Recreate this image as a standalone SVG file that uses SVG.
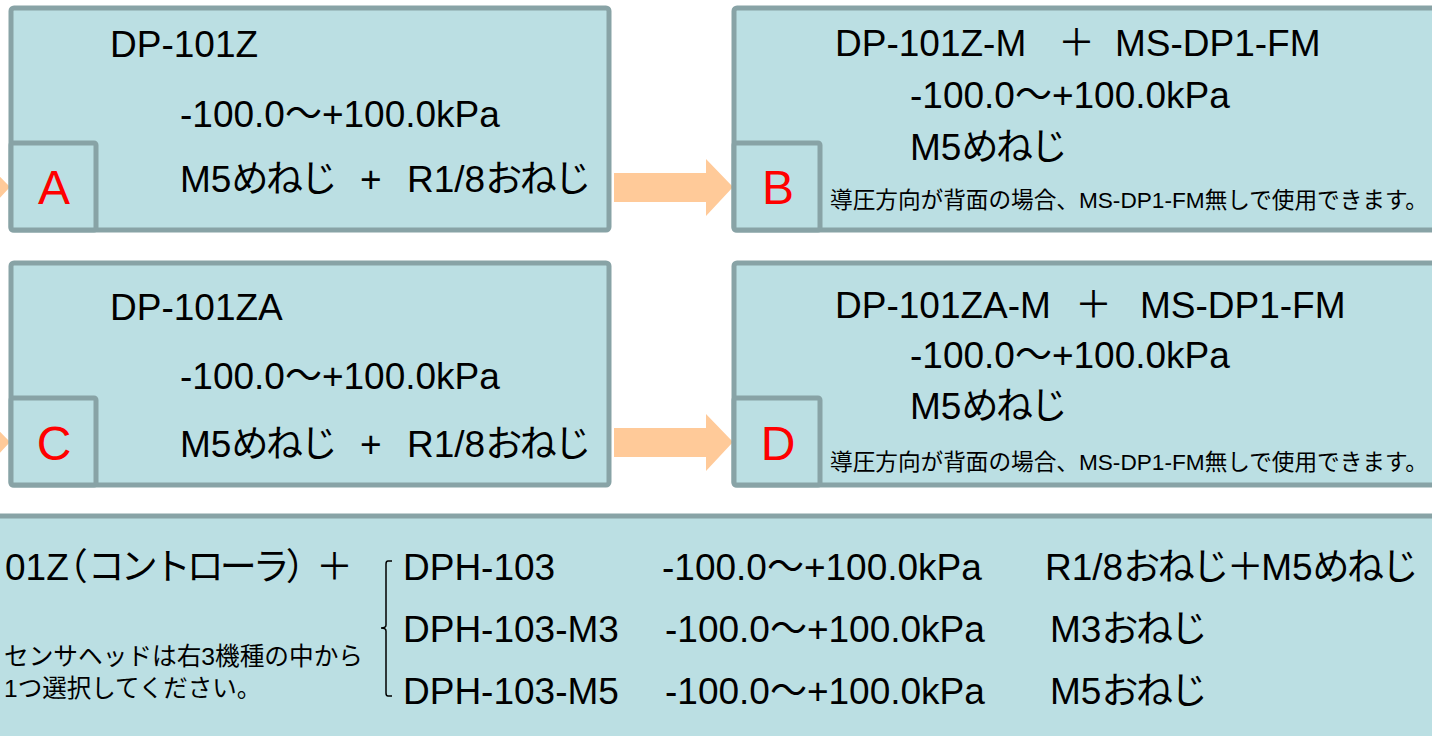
<svg xmlns="http://www.w3.org/2000/svg" width="1432" height="736" viewBox="0 0 1432 736">
<style>
.box{fill:#BBDFE3;stroke:#88A3A6;stroke-width:5}
.arrow{fill:#FFCA99}
text{font-family:"Liberation Sans","Noto Sans CJK JP",sans-serif;fill:#000}
.t{font-size:37px}
.k{letter-spacing:-2.5px}
.k4{letter-spacing:-4px}
.s{font-size:22.5px}
.n{font-size:24.5px}
.lbl{font-size:48px;fill:#FF0000;text-anchor:middle}
.br{fill:none;stroke:#000;stroke-width:1.5}
</style>
<rect width="1432" height="736" fill="#FFFFFF"/>
<g id="connectors">
<polygon class="arrow" points="-100,173 -17,173 -17,159 10,187 -17,216 -17,202 -100,202"/>
<polygon class="arrow" points="-100,428 -17,428 -17,414 10,442 -17,471 -17,457 -100,457"/>
<polygon class="arrow" points="614,173 706,173 706,159 733,187 706,216 706,202 614,202"/>
<polygon class="arrow" points="614,428 706,428 706,414 733,442 706,471 706,457 614,457"/>
</g>
<g id="nodeA">
<rect class="box" x="11" y="8" width="598" height="222" rx="3"/>
<rect class="box" x="11" y="143" width="85" height="87" rx="2"/>
<text class="lbl" x="54" y="204">A</text>
<text class="t" x="110" y="57">DP-101Z</text>
<text class="t" x="180" y="127">-100.0～+100.0kPa</text>
<text class="t" y="192"><tspan x="180">M5<tspan class="k">めねじ</tspan> </tspan><tspan x="360">+ </tspan><tspan x="407">R1/8<tspan class="k">おねじ</tspan></tspan></text>
</g>
<g id="nodeB">
<rect class="box" x="734" y="8" width="720" height="222" rx="3"/>
<rect class="box" x="734" y="143" width="86" height="87" rx="2"/>
<text class="lbl" x="778" y="204">B</text>
<text class="t" y="56"><tspan x="835">DP-101Z-M </tspan><tspan x="1058">＋ </tspan><tspan x="1115">MS-DP1-FM</tspan></text>
<text class="t" x="910" y="108">-100.0～+100.0kPa</text>
<text class="t" x="910" y="160">M5<tspan class="k">めねじ</tspan></text>
<text class="s" x="830" y="208" textLength="598" lengthAdjust="spacingAndGlyphs">導圧方向が背面の場合、MS-DP1-FM無しで使用できます。</text>
</g>
<g id="nodeC">
<rect class="box" x="11" y="263" width="598" height="222" rx="3"/>
<rect class="box" x="11" y="398" width="85" height="87" rx="2"/>
<text class="lbl" x="54" y="460">C</text>
<text class="t" x="110" y="320">DP-101ZA</text>
<text class="t" x="180" y="389">-100.0～+100.0kPa</text>
<text class="t" y="457"><tspan x="180">M5<tspan class="k">めねじ</tspan> </tspan><tspan x="360">+ </tspan><tspan x="407">R1/8<tspan class="k">おねじ</tspan></tspan></text>
</g>
<g id="nodeD">
<rect class="box" x="734" y="263" width="720" height="222" rx="3"/>
<rect class="box" x="734" y="398" width="86" height="87" rx="2"/>
<text class="lbl" x="778" y="460">D</text>
<text class="t" y="318"><tspan x="835">DP-101ZA-M </tspan><tspan x="1075">＋ </tspan><tspan x="1140">MS-DP1-FM</tspan></text>
<text class="t" x="910" y="368">-100.0～+100.0kPa</text>
<text class="t" x="910" y="419">M5<tspan class="k">めねじ</tspan></text>
<text class="s" x="830" y="470" textLength="598" lengthAdjust="spacingAndGlyphs">導圧方向が背面の場合、MS-DP1-FM無しで使用できます。</text>
</g>
<g id="nodeBottom">
<rect class="box" x="-10" y="516" width="1452" height="240"/>
<text class="t" y="580"><tspan x="5">01</tspan><tspan style="letter-spacing:-18px">Z</tspan>（<tspan class="k4">コントローラ</tspan><tspan style="letter-spacing:-14px">） </tspan><tspan x="316">＋</tspan></text>
<path class="br" d="M392,561 L388,561 Q386,561 386,564 L386,625 Q386,628 381,628 Q386,628 386,631 L386,693 Q386,696 388,696 L392,696"/>
<text class="t" x="403" y="580">DPH-103</text>
<text class="t" x="662" y="580">-100.0～+100.0kPa</text>
<text class="t" x="1045" y="580">R1/8<tspan class="k">おねじ＋</tspan>M5<tspan class="k">めねじ</tspan></text>
<text class="t" x="403" y="642">DPH-103-M3</text>
<text class="t" x="665" y="642">-100.0～+100.0kPa</text>
<text class="t" x="1050" y="642">M3<tspan class="k">おねじ</tspan></text>
<text class="t" x="403" y="704">DPH-103-M5</text>
<text class="t" x="665" y="704">-100.0～+100.0kPa</text>
<text class="t" x="1050" y="704">M5<tspan class="k">おねじ</tspan></text>
<text class="n" x="4" y="665" textLength="359" lengthAdjust="spacingAndGlyphs">センサヘッドは右3機種の中から</text>
<text class="n" x="4" y="697">1つ選択してください。</text>
</g>
</svg>
